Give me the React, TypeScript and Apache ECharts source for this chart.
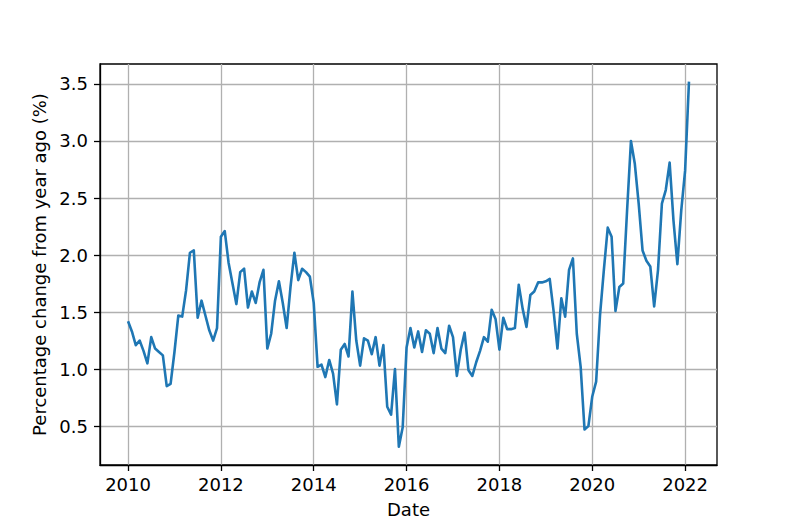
import React, { useEffect, useRef } from "react";
import * as echarts from "echarts";

// Monthly observations starting January 2010
const startYear = 2010;
const values2010 = [1.42, 1.33, 1.21, 1.25, 1.16, 1.05, 1.28, 1.18, 1.15, 1.12, 0.85, 0.87];
const values2011 = [1.15, 1.47, 1.46, 1.69, 2.02, 2.04, 1.45, 1.60, 1.47, 1.34, 1.25, 1.36];
const values2012 = [2.16, 2.21, 1.93, 1.75, 1.57, 1.85, 1.88, 1.54, 1.68, 1.58, 1.76, 1.87];
const values2013 = [1.18, 1.31, 1.60, 1.77, 1.58, 1.36, 1.72, 2.02, 1.78, 1.88, 1.85, 1.81];
const values2014 = [1.58, 1.02, 1.04, 0.93, 1.08, 0.96, 0.69, 1.17, 1.22, 1.11, 1.68, 1.25];
const values2015 = [1.03, 1.27, 1.25, 1.13, 1.28, 1.03, 1.21, 0.67, 0.60, 1.00, 0.32, 0.49];
const values2016 = [1.19, 1.36, 1.19, 1.33, 1.15, 1.34, 1.31, 1.14, 1.36, 1.18, 1.14, 1.38];
const values2017 = [1.28, 0.94, 1.17, 1.32, 0.99, 0.94, 1.06, 1.16, 1.28, 1.24, 1.52, 1.44];
const values2018 = [1.17, 1.45, 1.35, 1.35, 1.36, 1.74, 1.53, 1.37, 1.65, 1.68, 1.76, 1.76];
const values2019 = [1.77, 1.79, 1.51, 1.18, 1.62, 1.46, 1.87, 1.97, 1.31, 1.02, 0.47, 0.50];
const values2020 = [0.76, 0.89, 1.47, 1.87, 2.24, 2.16, 1.51, 1.72, 1.75, 2.39, 3.00, 2.80];
const values2021 = [2.45, 2.04, 1.95, 1.90, 1.55, 1.87, 2.45, 2.57, 2.81, 2.30, 1.92, 2.39];
const values2022 = [2.74, 3.52];

const yearlyValues = [
  values2010, values2011, values2012, values2013, values2014, values2015, values2016,
  values2017, values2018, values2019, values2020, values2021, values2022,
];

const xTicks = [2010, 2012, 2014, 2016, 2018, 2020, 2022];
const yTicks = [0.5, 1.0, 1.5, 2.0, 2.5, 3.0, 3.5];

const xName = "Date";
const yName = "Percentage change from year ago (%)";

export default function App() {
  const ref = useRef<HTMLDivElement>(null);

  useEffect(() => {
    if (!ref.current) return;
    const chart = echarts.init(ref.current, null, { renderer: "svg" });

    const data: [number, number][] = [];
    yearlyValues.forEach((arr, yi) => {
      arr.forEach((v, mi) => {
        data.push([startYear + yi + mi / 12, v]);
      });
    });

    const font = "DejaVu Sans";
    const fs = 18;
    const xMin = 2009.396;
    const xMax = 2022.687;

    chart.setOption({
      animation: false,
      backgroundColor: "#ffffff",
      grid: {
        left: 100,
        right: 80,
        top: 64,
        bottom: 67,
        show: true,
        borderColor: "#000000",
        borderWidth: 1.3,
        backgroundColor: "transparent",
        containLabel: false,
      },
      xAxis: {
        type: "value",
        min: xMin,
        max: xMax,
        name: xName,
        nameLocation: "middle",
        nameGap: 35,
        nameTextStyle: { fontFamily: font, fontSize: fs, color: "#000" },
        axisLine: { show: true, onZero: false, lineStyle: { color: "#000", width: 1.3 } },
        axisTick: {
          show: true,
          length: 6,
          inside: false,
          customValues: xTicks,
          lineStyle: { color: "#000", width: 1.3 },
        },
        axisLabel: {
          customValues: xTicks,
          margin: 10,
          fontFamily: font,
          fontSize: fs,
          color: "#000",
          formatter: (v: number) => String(Math.round(v)),
        },
        splitLine: { show: true, lineStyle: { color: "#b0b0b0", width: 1.3 } },
      },
      yAxis: {
        type: "value",
        min: 0.159,
        max: 3.675,
        name: yName,
        nameLocation: "middle",
        nameGap: 48,
        nameTextStyle: { fontFamily: font, fontSize: fs, color: "#000" },
        axisLine: { show: true, onZero: false, lineStyle: { color: "#000", width: 1.3 } },
        axisTick: {
          show: true,
          length: 6,
          inside: false,
          customValues: yTicks,
          lineStyle: { color: "#000", width: 1.3 },
        },
        axisLabel: {
          customValues: yTicks,
          margin: 12,
          fontFamily: font,
          fontSize: fs,
          color: "#000",
          formatter: (v: number) => v.toFixed(1),
        },
        splitLine: { show: true, lineStyle: { color: "#b0b0b0", width: 1.3 } },
      },
      series: [
        {
          type: "line",
          data,
          showSymbol: false,
          symbol: "none",
          lineStyle: { color: "#1f77b4", width: 2.6, join: "round" },
          itemStyle: { color: "#1f77b4" },
          z: 3,
        },
      ],
    });

    return () => chart.dispose();
  }, []);

  return (
    <div
      ref={ref}
      style={{ position: "fixed", left: 0, top: 0, width: 797, height: 532, background: "#fff" }}
    />
  );
}
